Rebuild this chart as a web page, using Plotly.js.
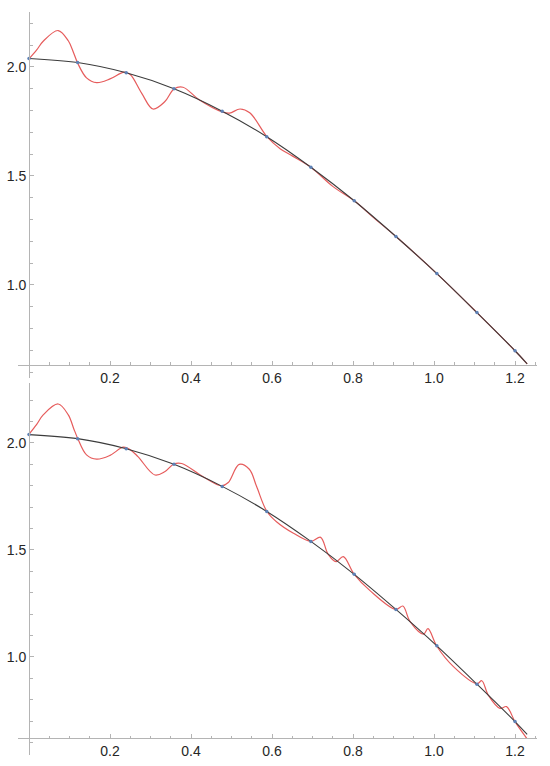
<!DOCTYPE html>
<html>
<head>
<meta charset="utf-8">
<script src="https://cdn.plot.ly/plotly-3.0.1.min.js"></script>
<style>
  html, body { margin: 0; padding: 0; background: #fff; }
  #chart { width: 550px; height: 766px; }
</style>
</head>
<body>
<div id="chart"></div>
<script>
// ---- data ----
// sample nodes (blue dots) lying on the smooth black curve
const nodeX = [0, 0.120, 0.240, 0.358, 0.477, 0.587, 0.696, 0.803, 0.906, 1.007, 1.106, 1.200];
const nodeY = [2.039, 2.020, 1.973, 1.900, 1.797, 1.680, 1.540, 1.386, 1.222, 1.052, 0.873, 0.698];
// smooth black curve
const curveX = [0, 0.120, 0.240, 0.358, 0.477, 0.587, 0.696, 0.803, 0.906, 1.007, 1.106, 1.200, 1.230];
const curveY = [2.039, 2.020, 1.973, 1.900, 1.797, 1.680, 1.540, 1.386, 1.222, 1.052, 0.873, 0.698, 0.638];

// red interpolant, top panel
const redTopX = [0, 0.019, 0.035, 0.072, 0.097, 0.110, 0.120, 0.142, 0.167, 0.200, 0.235, 0.250, 0.278, 0.306, 0.335, 0.358, 0.380, 0.420, 0.477, 0.495, 0.521, 0.545, 0.588, 0.620, 0.650, 0.696, 0.750, 0.803, 0.850, 0.906, 1.007, 1.106, 1.200, 1.230];
const redTopY = [2.037, 2.078, 2.118, 2.167, 2.120, 2.065, 2.018, 1.950, 1.928, 1.945, 1.976, 1.965, 1.880, 1.807, 1.840, 1.899, 1.907, 1.850, 1.794, 1.788, 1.807, 1.790, 1.679, 1.625, 1.592, 1.540, 1.452, 1.386, 1.310, 1.222, 1.052, 0.873, 0.698, 0.638];

// red interpolant, bottom panel
const redBotX = [0, 0.019, 0.035, 0.072, 0.097, 0.110, 0.120, 0.142, 0.167, 0.200, 0.233, 0.250, 0.269, 0.311, 0.335, 0.358, 0.377, 0.430, 0.476, 0.492, 0.519, 0.544, 0.562, 0.587, 0.611, 0.653, 0.696, 0.720, 0.738, 0.758, 0.776, 0.803, 0.842, 0.906, 0.923, 0.941, 0.974, 0.985, 1.007, 1.048, 1.106, 1.118, 1.134, 1.163, 1.179, 1.200, 1.229];
const redBotY = [2.041, 2.087, 2.131, 2.182, 2.131, 2.069, 2.022, 1.944, 1.924, 1.942, 1.980, 1.968, 1.936, 1.850, 1.865, 1.902, 1.904, 1.842, 1.800, 1.815, 1.900, 1.877, 1.796, 1.681, 1.632, 1.578, 1.540, 1.559, 1.482, 1.445, 1.469, 1.386, 1.310, 1.222, 1.238, 1.165, 1.107, 1.132, 1.050, 0.955, 0.875, 0.889, 0.822, 0.760, 0.768, 0.698, 0.620];

const xTickVals = [0.2, 0.4, 0.6, 0.8, 1.0, 1.2];
const yTickVals = [1.0, 1.5, 2.0];

// ---- layout geometry ----
const W = 550, H = 766;
const xRange = [-0.0272, 1.2543];
const xDom = [18 / W, 537 / W];
const topYRange = [0.573, 2.252], topYDom = [1 - 378 / H, 1 - 12 / H], topCross = 0.633;
const botYRange = [0.542, 2.280], botYDom = [1 - 755 / H, 1 - 383 / H], botCross = 0.621;

function pos(v, r, d) { return d[0] + (v - r[0]) / (r[1] - r[0]) * (d[1] - d[0]); }

const axisColor = '#b4b4b4';
const tickFont = { family: 'Liberation Sans, Arial, sans-serif', size: 14, color: '#262626' };

function xAxis(dom, yr, yd, cross) {
  return {
    range: xRange, domain: dom, anchor: 'free', position: pos(cross, yr, yd),
    showline: true, linecolor: axisColor, linewidth: 1,
    showgrid: false, zeroline: false,
    tickmode: 'array', tickvals: xTickVals, ticktext: xTickVals.map(v => v.toFixed(1)),
    ticks: 'inside', ticklen: 4, tickcolor: axisColor, tickwidth: 1,
    minor: { dtick: 0.05, tick0: 0, ticks: 'inside', ticklen: 2.5, tickcolor: axisColor, showgrid: false },
    tickfont: tickFont, fixedrange: true
  };
}
function yAxis(yr, yd) {
  return {
    range: yr, domain: yd, anchor: 'free', position: pos(0, xRange, xDom),
    showline: true, linecolor: axisColor, linewidth: 1,
    showgrid: false, zeroline: false,
    tickmode: 'array', tickvals: yTickVals, ticktext: yTickVals.map(v => v.toFixed(1)),
    ticks: 'inside', ticklen: 4, tickcolor: axisColor, tickwidth: 1,
    minor: { dtick: 0.1, tick0: 0, ticks: 'inside', ticklen: 2.5, tickcolor: axisColor, showgrid: false },
    tickfont: tickFont, fixedrange: true
  };
}

const redColor = '#e65c5c';
const blackColor = '#3c3c3c';
const dotColor = '#5e81b5';

function panel(xa, ya, rx, ry) {
  return [
    { x: rx, y: ry, xaxis: xa, yaxis: ya, mode: 'lines', line: { color: redColor, width: 1.2, shape: 'spline', smoothing: 1 }, hoverinfo: 'skip' },
    { x: curveX, y: curveY, xaxis: xa, yaxis: ya, mode: 'lines', line: { color: blackColor, width: 1.1, shape: 'spline', smoothing: 1 }, hoverinfo: 'skip' },
    { x: nodeX, y: nodeY, xaxis: xa, yaxis: ya, mode: 'markers', marker: { color: dotColor, size: 3.5 }, hoverinfo: 'skip' }
  ];
}

const data = [].concat(panel('x', 'y', redTopX, redTopY), panel('x2', 'y2', redBotX, redBotY));

const layout = {
  width: W, height: H,
  margin: { l: 0, r: 0, t: 0, b: 0 },
  paper_bgcolor: '#fff', plot_bgcolor: 'rgba(0,0,0,0)',
  showlegend: false,
  xaxis: xAxis(xDom, topYRange, topYDom, topCross),
  yaxis: yAxis(topYRange, topYDom),
  xaxis2: xAxis(xDom, botYRange, botYDom, botCross),
  yaxis2: yAxis(botYRange, botYDom)
};

Plotly.newPlot('chart', data, layout, { displayModeBar: false, staticPlot: true });
</script>
</body>
</html>
